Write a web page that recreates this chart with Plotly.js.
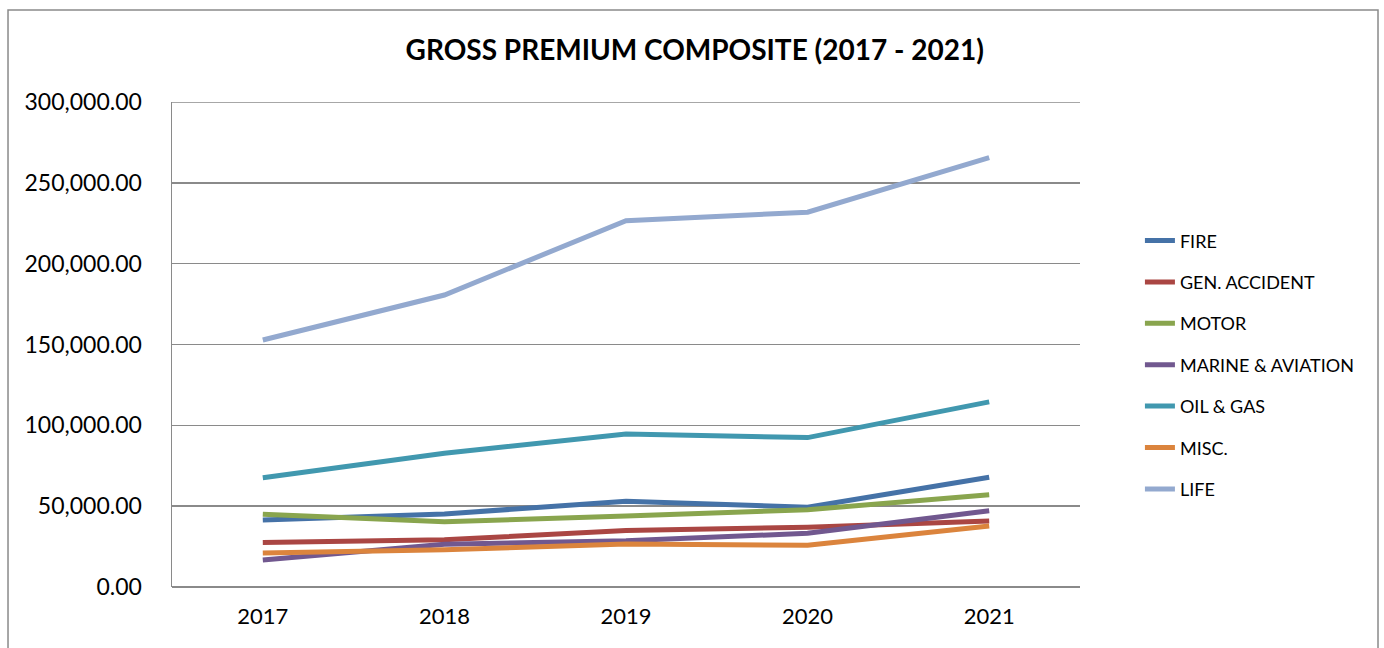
<!DOCTYPE html>
<html>
<head>
<meta charset="utf-8">
<script src="https://cdn.plot.ly/plotly-3.0.1.min.js"></script>
<style>
html,body{margin:0;padding:0;background:#fff;}
#chart{width:1384px;height:648px;}
</style>
</head>
<body>
<div id="chart"></div>
<script>
const years = ["2017", "2018", "2019", "2020", "2021"];
const seriesNames = ["FIRE", "GEN. ACCIDENT", "MOTOR", "MARINE & AVIATION", "OIL & GAS", "MISC.", "LIFE"];
const fire = [41400, 45200, 53000, 49300, 67900];
const genAccident = [27600, 29200, 35000, 36900, 40800];
const motor = [45000, 40400, 43900, 47800, 57100];
const marineAviation = [16700, 26500, 28600, 33200, 47200];
const oilGas = [67600, 82700, 94600, 92400, 114500];
const misc = [21000, 23000, 26600, 25800, 37700];
const life = [152800, 180600, 226600, 231800, 265600];
const seriesValues = [fire, genAccident, motor, marineAviation, oilGas, misc, life];
const seriesColors = ["#4572A7", "#AA4643", "#89A54E", "#71588F", "#4198AF", "#DB843D", "#93A9CF"];
const yMax = 300000;

const font = "Lato, 'Open Sans', 'Liberation Sans', sans-serif";

const traces = seriesNames.map((name, i) => ({
  type: "scatter",
  mode: "lines",
  name: name,
  x: years,
  y: seriesValues[i],
  legendgroup: "g" + i,
  line: {color: seriesColors[i], width: 5}
}));

const layout = {
  width: 1384,
  height: 648,
  paper_bgcolor: "#ffffff",
  plot_bgcolor: "#ffffff",
  margin: {l: 172, r: 304, t: 102, b: 61, pad: 0},
  title: {
    text: "<b>GROSS PREMIUM COMPOSITE (2017 - 2021)</b>",
    font: {family: font, size: 28, color: "#000000"},
    x: 0.502, xanchor: "center",
    y: 0.922, yanchor: "middle", yref: "container"
  },
  xaxis: {
    type: "category",
    range: [-0.5, 4.5],
    showgrid: false,
    showline: false,
    zeroline: false,
    ticks: "",
    tickfont: {family: font, size: 22, color: "#000000"},
    ticklabelstandoff: 14
  },
  yaxis: {
    range: [0, yMax],
    dtick: 50000,
    tickformat: ",.2f",
    showgrid: true,
    gridcolor: "#8a8a8a",
    gridwidth: 1.5,
    zeroline: true,
    zerolinecolor: "#8a8a8a",
    zerolinewidth: 1.5,
    showline: true,
    linecolor: "#8a8a8a",
    linewidth: 1.5,
    ticks: "",
    tickfont: {family: font, size: 23, color: "#000000"},
    ticklabelstandoff: 24
  },
  showlegend: true,
  legend: {
    x: 1.066, xanchor: "left",
    y: 0.752, yanchor: "top",
    font: {family: font, size: 18, color: "#000000"},
    tracegroupgap: 15,
    bgcolor: "rgba(0,0,0,0)",
    borderwidth: 0
  },
  shapes: [{
    type: "rect", xref: "paper", yref: "paper",
    x0: -0.1806, x1: 1.3282, y0: -0.16, y1: 1.1897,
    line: {color: "#8a8a8a", width: 1.5},
    fillcolor: "rgba(0,0,0,0)",
    layer: "below"
  }, {
    type: "line", xref: "paper", yref: "y",
    x0: 0, x1: 1, y0: yMax, y1: yMax,
    line: {color: "#8a8a8a", width: 1.5},
    layer: "below"
  }]
};

Plotly.newPlot("chart", traces, layout, {displayModeBar: false, staticPlot: true});
</script>
</body>
</html>
